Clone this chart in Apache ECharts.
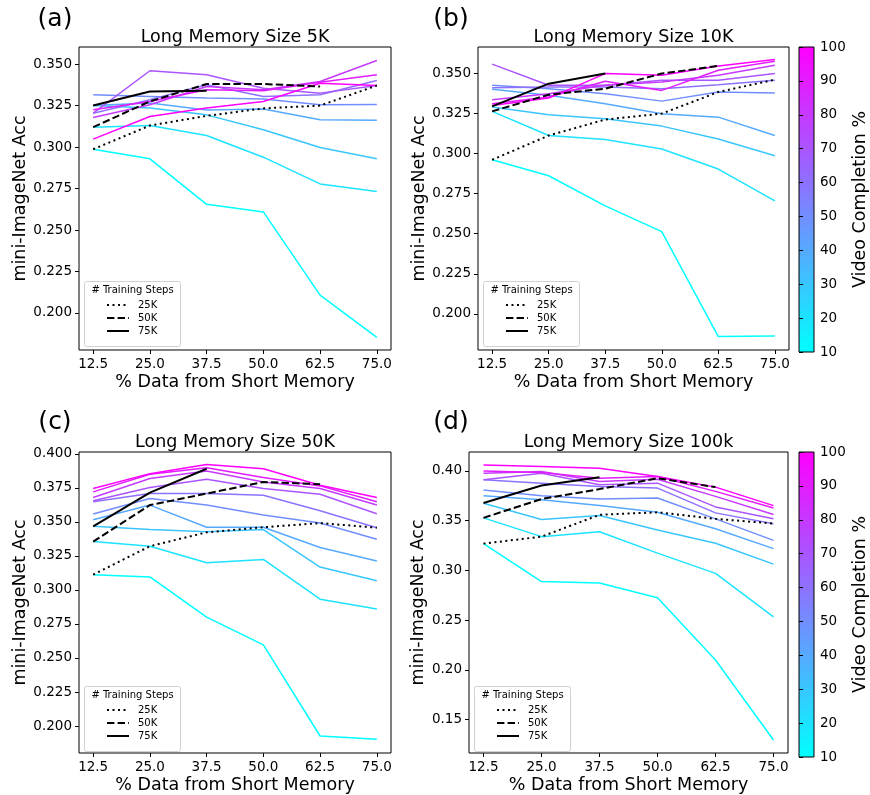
<!DOCTYPE html>
<html><head><meta charset="utf-8">
<script src="https://cdn.jsdelivr.net/npm/echarts@6/dist/echarts.min.js"></script>
<style>html,body{margin:0;padding:0;background:#fff}#c{width:870px;height:795px}</style>
</head><body><div id="c"></div>
<script>
// ---------------- data ----------------
const xs = [12.5, 25.0, 37.5, 50.0, 62.5, 75.0];
const completion = [10, 20, 30, 40, 50, 60, 70, 80, 90, 100];
const stepNames = ['25K', '50K', '75K'];
const panelTitles = ['Long Memory Size 5K', 'Long Memory Size 10K', 'Long Memory Size 50K', 'Long Memory Size 100k'];
const panelLetters = ['(a)', '(b)', '(c)', '(d)'];
const xTicks = [12.5, 25.0, 37.5, 50.0, 62.5, 75.0];
const yTicksA = [0.200, 0.225, 0.250, 0.275, 0.300, 0.325, 0.350];
const yTicksB = [0.200, 0.225, 0.250, 0.275, 0.300, 0.325, 0.350];
const yTicksC = [0.200, 0.225, 0.250, 0.275, 0.300, 0.325, 0.350, 0.375, 0.400];
const yTicksD = [0.15, 0.20, 0.25, 0.30, 0.35, 0.40];
const cbTicks = [10, 20, 30, 40, 50, 60, 70, 80, 90, 100];

// rows = video completion 10..100, columns = xs
const accA = [
  [0.2987, 0.2929, 0.2655, 0.2609, 0.2108, 0.1853],
  [0.3120, 0.3130, 0.3070, 0.2939, 0.2778, 0.2732],
  [0.3250, 0.3235, 0.3194, 0.3104, 0.2997, 0.2929],
  [0.3250, 0.3265, 0.3224, 0.3230, 0.3164, 0.3162],
  [0.3315, 0.3305, 0.3295, 0.3289, 0.3255, 0.3257],
  [0.3204, 0.3285, 0.3375, 0.3305, 0.3315, 0.3401],
  [0.3204, 0.3460, 0.3436, 0.3355, 0.3325, 0.3371],
  [0.3178, 0.3255, 0.3365, 0.3345, 0.3395, 0.3522],
  [0.3225, 0.3275, 0.3345, 0.3340, 0.3390, 0.3436],
  [0.3048, 0.3184, 0.3235, 0.3275, 0.3385, 0.3371]
];
const accB = [
  [0.2962, 0.2862, 0.2674, 0.2513, 0.1858, 0.1862],
  [0.3264, 0.3113, 0.3088, 0.3029, 0.2904, 0.2705],
  [0.3291, 0.3243, 0.3218, 0.3172, 0.3092, 0.2987],
  [0.3402, 0.3364, 0.3312, 0.3249, 0.3228, 0.3113],
  [0.3427, 0.3406, 0.3374, 0.3328, 0.3385, 0.3379],
  [0.3412, 0.3416, 0.3416, 0.3406, 0.3431, 0.3458],
  [0.3559, 0.3427, 0.3427, 0.3458, 0.3458, 0.3500],
  [0.3337, 0.3374, 0.3427, 0.3448, 0.3490, 0.3552],
  [0.3312, 0.3354, 0.3452, 0.3395, 0.3521, 0.3577],
  [0.3301, 0.3347, 0.3500, 0.3490, 0.3548, 0.3588]
];
const accC = [
  [0.3112, 0.3095, 0.2800, 0.2596, 0.1927, 0.1903],
  [0.3355, 0.3321, 0.3200, 0.3224, 0.2932, 0.2859],
  [0.3467, 0.3443, 0.3428, 0.3443, 0.3168, 0.3068],
  [0.3516, 0.3623, 0.3460, 0.3460, 0.3311, 0.3212],
  [0.3557, 0.3672, 0.3623, 0.3550, 0.3491, 0.3372],
  [0.3647, 0.3708, 0.3708, 0.3696, 0.3581, 0.3457],
  [0.3655, 0.3752, 0.3813, 0.3745, 0.3703, 0.3560],
  [0.3679, 0.3818, 0.3873, 0.3793, 0.3745, 0.3623],
  [0.3720, 0.3849, 0.3898, 0.3825, 0.3764, 0.3647],
  [0.3745, 0.3854, 0.3922, 0.3890, 0.3769, 0.3679]
];
const accD = [
  [0.3270, 0.2888, 0.2874, 0.2725, 0.2100, 0.1296],
  [0.3529, 0.3340, 0.3390, 0.3174, 0.2971, 0.2533],
  [0.3675, 0.3512, 0.3552, 0.3406, 0.3273, 0.3064],
  [0.3752, 0.3712, 0.3652, 0.3585, 0.3419, 0.3220],
  [0.3808, 0.3752, 0.3718, 0.3728, 0.3519, 0.3303],
  [0.3911, 0.3878, 0.3845, 0.3828, 0.3579, 0.3469],
  [0.3911, 0.3977, 0.3861, 0.3878, 0.3639, 0.3519],
  [0.3977, 0.3994, 0.3894, 0.3917, 0.3745, 0.3562],
  [0.4001, 0.3984, 0.3928, 0.3944, 0.3795, 0.3628],
  [0.4060, 0.4044, 0.4027, 0.3944, 0.3838, 0.3652]
];
// training-step lines: 25K, 50K, 75K
const stepsA25 = [0.2987, 0.3130, 0.3188, 0.3233, 0.3250, 0.3371];
const stepsA50 = [0.3120, 0.3275, 0.3380, 0.3380, 0.3365];
const stepsA75 = [0.3250, 0.3335, 0.3340];
const stepsB25 = [0.2962, 0.3113, 0.3213, 0.3250, 0.3385, 0.3462];
const stepsB50 = [0.3264, 0.3368, 0.3406, 0.3500, 0.3548];
const stepsB75 = [0.3295, 0.3437, 0.3500];
const stepsC25 = [0.3112, 0.3321, 0.3423, 0.3460, 0.3491, 0.3457];
const stepsC50 = [0.3355, 0.3623, 0.3708, 0.3793, 0.3776];
const stepsC75 = [0.3467, 0.3715, 0.3890];
const stepsD25 = [0.3270, 0.3340, 0.3559, 0.3585, 0.3519, 0.3472];
const stepsD50 = [0.3529, 0.3718, 0.3818, 0.3927, 0.3838];
const stepsD75 = [0.3678, 0.3854, 0.3937];

// ---------------- layout ----------------
const FONT = 'DejaVu Sans';
const panels = [
  {acc: accA, steps: [stepsA25, stepsA50, stepsA75], yTicks: yTicksA, ymin: 0.1777, ymax: 0.3603, dec: 3,
   left: 79, top: 47, width: 312, height: 303, nameGap: 46},
  {acc: accB, steps: [stepsB25, stepsB50, stepsB75], yTicks: yTicksB, ymin: 0.1774, ymax: 0.3666, dec: 3,
   left: 478, top: 47, width: 311, height: 303, nameGap: 47},
  {acc: accC, steps: [stepsC25, stepsC50, stepsC75], yTicks: yTicksC, ymin: 0.1802, ymax: 0.4013, dec: 3,
   left: 79, top: 452, width: 312, height: 303, nameGap: 46},
  {acc: accD, steps: [stepsD25, stepsD50, stepsD75], yTicks: yTicksD, ymin: 0.1165, ymax: 0.4191, dec: 2,
   left: 469, top: 452, width: 319, height: 303, nameGap: 42}
];
const letterPos = [[55, 19], [451, 19], [55, 422], [451, 422]];

function cool(v) {
  const t = (v - 10) / 90;
  return 'rgb(' + Math.round(255 * t) + ',' + Math.round(255 * (1 - t)) + ',255)';
}

const grid = [], xAxis = [], yAxis = [], series = [], legend = [], graphic = [];
const tickStyle = {color: '#000', fontSize: 13.5, fontFamily: FONT};
const nameStyle = {color: '#000', fontSize: 17.5, fontFamily: FONT};

panels.forEach((p, i) => {
  grid.push({left: p.left, top: p.top, width: p.width, height: p.height, show: true,
    borderColor: '#000', borderWidth: 1, backgroundColor: 'transparent', containLabel: false});
  xAxis.push({type: 'value', gridIndex: i, min: 9.375, max: 78.125,
    axisLine: {show: false},
    axisTick: {show: true, customValues: xTicks, length: 4, lineStyle: {color: '#000', width: 1}},
    axisLabel: {customValues: xTicks, formatter: v => v.toFixed(1), margin: 7, ...tickStyle},
    splitLine: {show: false},
    name: '% Data from Short Memory', nameLocation: 'middle', nameGap: 23, nameTextStyle: nameStyle});
  yAxis.push({type: 'value', gridIndex: i, min: p.ymin, max: p.ymax,
    axisLine: {show: false},
    axisTick: {show: true, customValues: p.yTicks, length: 4, lineStyle: {color: '#000', width: 1}},
    axisLabel: {customValues: p.yTicks, formatter: v => v.toFixed(p.dec), margin: 7, ...tickStyle},
    splitLine: {show: false},
    name: 'mini-ImageNet Acc', nameLocation: 'middle', nameRotate: 90, nameGap: p.nameGap, nameTextStyle: nameStyle});

  p.acc.forEach((row, j) => {
    series.push({type: 'line', xAxisIndex: i, yAxisIndex: i, name: 'c' + completion[j],
      data: row.map((v, k) => [xs[k], v]), symbol: 'none', silent: true, z: 2,
      lineStyle: {color: cool(completion[j]), width: 1.5}});
  });
  const dashes = [[2, 3.5], [7.4, 3.2], 'solid'];
  p.steps.forEach((row, j) => {
    series.push({type: 'line', xAxisIndex: i, yAxisIndex: i, name: stepNames[j],
      data: row.map((v, k) => [xs[k], v]), symbol: 'none', silent: true, z: 3,
      itemStyle: {color: '#000'},
      lineStyle: {color: '#000', width: 2, type: dashes[j], cap: 'butt'}});
  });

  // legend frame + title
  const bx = p.left + 5, bTop = p.top + p.height - 69;
  graphic.push({type: 'rect', z: 10, shape: {x: bx + 0.5, y: bTop + 0.5, width: 96, height: 65, r: 2},
    style: {fill: 'rgba(255,255,255,0.8)', stroke: '#d0d0d0', lineWidth: 1}});
  graphic.push({type: 'text', z: 11, x: bx + 48.5, y: bTop + 9,
    style: {text: '# Training Steps', fontSize: 10, fontFamily: FONT, fill: '#000', align: 'center', verticalAlign: 'middle'}});
  legend.push({data: stepNames, orient: 'vertical', left: bx + 22, top: bTop + 19, z: 12,
    itemWidth: 22, itemHeight: 12, itemGap: 3, selectedMode: false, padding: 0,
    itemStyle: {opacity: 0, color: 'rgba(0,0,0,0)', borderWidth: 0},
    textStyle: {fontSize: 10, fontFamily: FONT, color: '#000', padding: [0, 0, 0, 4]}});

  graphic.push({type: 'text', z: 11, x: p.left + p.width / 2, y: p.top - 10,
    style: {text: panelTitles[i], fontSize: 17.5, fontFamily: FONT, fill: '#000', align: 'center', verticalAlign: 'middle'}});
  graphic.push({type: 'text', z: 11, x: letterPos[i][0], y: letterPos[i][1],
    style: {text: panelLetters[i], fontSize: 25, fontFamily: FONT, fill: '#000', align: 'center', verticalAlign: 'middle'}});
});

// colorbars
[[47, 305], [452, 305]].forEach((c, n) => {
  const gi = grid.length;
  grid.push({left: 799, top: c[0], width: 17, height: c[1], show: true, borderColor: '#000', borderWidth: 1,
    backgroundColor: new echarts.graphic.LinearGradient(0, 1, 0, 0, [{offset: 0, color: cool(10)}, {offset: 1, color: cool(100)}])});
  xAxis.push({type: 'value', gridIndex: gi, min: 0, max: 1, show: false});
  yAxis.push({type: 'value', gridIndex: gi, min: 10, max: 100, interval: 10, position: 'right',
    axisLine: {show: false},
    axisTick: {show: true, length: 4, lineStyle: {color: '#000', width: 1}},
    axisLabel: {margin: 6, ...tickStyle},
    splitLine: {show: false},
    name: 'Video Completion %', nameLocation: 'middle', nameRotate: 90, nameGap: 37, nameTextStyle: nameStyle});
});

const chart = echarts.init(document.getElementById('c'), null, {renderer: 'canvas'});
chart.setOption({animation: false, backgroundColor: '#fff', grid, xAxis, yAxis, series, legend, graphic});
</script></body></html>
